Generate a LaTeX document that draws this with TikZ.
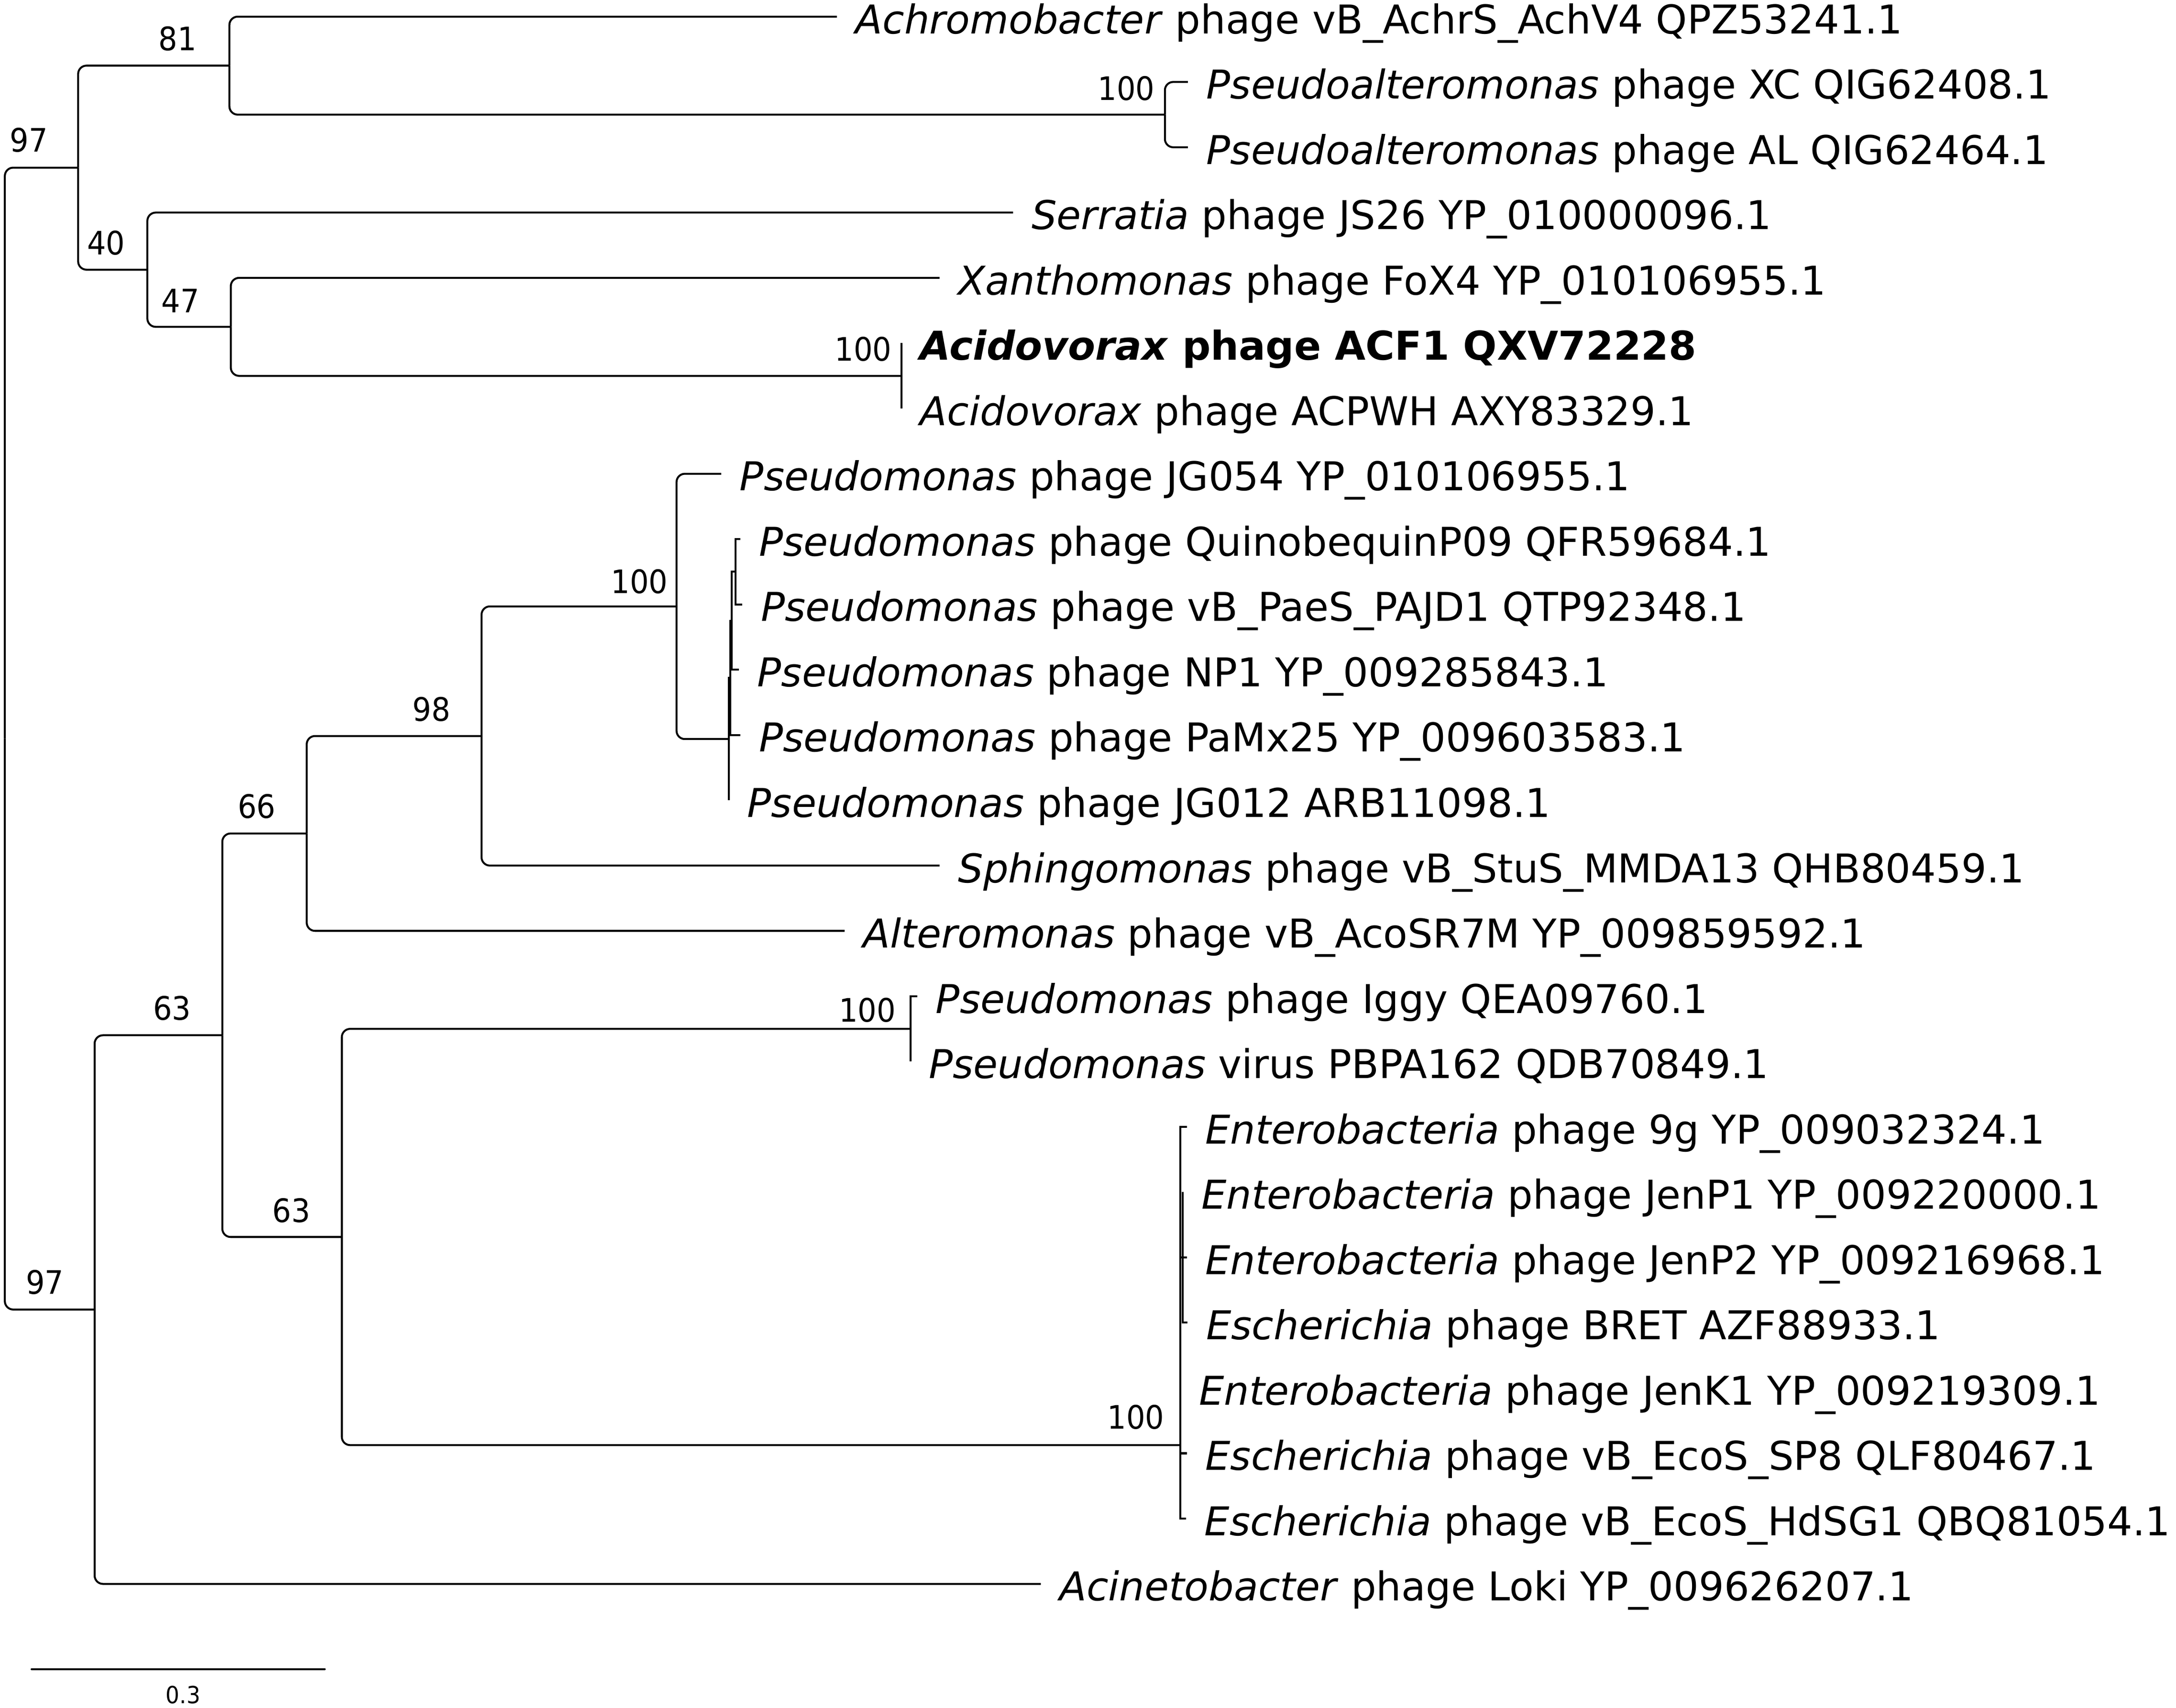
\documentclass[tikz,border=0pt]{standalone}
\usepackage{fontspec}
\setmainfont{DejaVu Sans}
\newfontfamily\bootfont[FakeStretch=0.92]{DejaVu Sans}
\usetikzlibrary{positioning}

\tikzset{
  branch/.style={line width=0.7pt, rounded corners=3pt},
  twig/.style={line width=0.7pt},
  leaf/.style={anchor=west, inner xsep=6.5pt, inner ysep=0pt, text height=13.6pt, text depth=1.43pt, font=\fontsize{14.3pt}{16pt}\selectfont},
  boot/.style={inner sep=0pt, text height=8.5pt, text depth=0pt, font=\bootfont\fontsize{11.65pt}{13pt}\selectfont},
}

\begin{document}
\begin{tikzpicture}[x=0.5pt,y=0.5pt,yscale=-1,xscale=1]
    \useasboundingbox (0,0) rectangle (1568,1230.6);

    %Inner nodes of the tree
    \coordinate (root) at (3.5,532.2);
    \coordinate (nA) at (56.3,120.8);
    \coordinate (nB) at (165.3,47.3);
    \coordinate (nC) at (839.4,82.6);
    \coordinate (nD) at (106.2,194.3);
    \coordinate (nE) at (166.3,235.5);
    \coordinate (nF) at (649.6,270.8);
    \coordinate (nG) at (68.2,943.5);
    \coordinate (nH) at (160.2,745.9);
    \coordinate (nI) at (221,600.5);
    \coordinate (nJ) at (347,530.3);
    \coordinate (nK) at (487.5,436.9);
    \coordinate (nL) at (525.2,532.5);
    \coordinate (nM) at (526.1,488.4);
    \coordinate (nN) at (527.2,447.2);
    \coordinate (nO) at (530.1,411.9);
    \coordinate (nP) at (246.3,891.25);
    \coordinate (nQ) at (656,741.3);
    \coordinate (nR) at (850.6,1041.2);
    \coordinate (nS) at (850.6,988.3);
    \coordinate (nT) at (850.6,929.5);
    \coordinate (nU) at (850.6,858.9);
    \coordinate (nV) at (852.3,905.95);

    % Text Node
    \draw (603,12) node (L0) [leaf] {\textit{Achromobacter} phage vB\_AchrS\_AchV4 QPZ53241.1};
    % Text Node
    \draw (856,59.05) node (L1) [leaf] {\textit{Pseudoalteromonas} phage XC QIG62408.1};
    % Text Node
    \draw (856,106.1) node (L2) [leaf] {\textit{Pseudoalteromonas} phage AL QIG62464.1};
    % Text Node
    \draw (730,153.15) node (L3) [leaf] {\textit{Serratia} phage JS26 YP\_010000096.1};
    % Text Node
    \draw (677,200.2) node (L4) [leaf] {\textit{Xanthomonas} phage FoX4 YP\_010106955.1};
    % Text Node
    \draw (649.6,247.25) node (L5) [leaf] {\bfseries\textit{Acidovorax} phage ACF1 QXV72228};
    % Text Node
    \draw (649.6,294.3) node (L6) [leaf] {\textit{Acidovorax} phage ACPWH AXY83329.1};
    % Text Node
    \draw (519.7,341.35) node (L7) [leaf] {\textit{Pseudomonas} phage JG054 YP\_010106955.1};
    % Text Node
    \draw (533.5,388.4) node (L8) [leaf] {\textit{Pseudomonas} phage QuinobequinP09 QFR59684.1};
    % Text Node
    \draw (535,435.45) node (L9) [leaf] {\textit{Pseudomonas} phage vB\_PaeS\_PAJD1 QTP92348.1};
    % Text Node
    \draw (532.4,482.5) node (L10) [leaf] {\textit{Pseudomonas} phage NP1 YP\_009285843.1};
    % Text Node
    \draw (533.5,529.55) node (L11) [leaf] {\textit{Pseudomonas} phage PaMx25 YP\_009603583.1};
    % Text Node
    \draw (525.2,576.6) node (L12) [leaf] {\textit{Pseudomonas} phage JG012 ARB11098.1};
    % Text Node
    \draw (677,623.65) node (L13) [leaf] {\textit{Sphingomonas} phage vB\_StuS\_MMDA13 QHB80459.1};
    % Text Node
    \draw (608.6,670.7) node (L14) [leaf] {\textit{Alteromonas} phage vB\_AcoSR7M YP\_009859592.1};
    % Text Node
    \draw (661,717.75) node (L15) [leaf] {\textit{Pseudomonas} phage Iggy QEA09760.1};
    % Text Node
    \draw (656,764.8) node (L16) [leaf] {\textit{Pseudomonas} virus PBPA162 QDB70849.1};
    % Text Node
    \draw (855.2,811.85) node (L17) [leaf] {\textit{Enterobacteria} phage 9g YP\_009032324.1};
    % Text Node
    \draw (852.3,858.9) node (L18) [leaf] {\textit{Enterobacteria} phage JenP1 YP\_009220000.1};
    % Text Node
    \draw (855.2,905.95) node (L19) [leaf] {\textit{Enterobacteria} phage JenP2 YP\_009216968.1};
    % Text Node
    \draw (855.8,953) node (L20) [leaf] {\textit{Escherichia} phage BRET AZF88933.1};
    % Text Node
    \draw (850.6,1000.05) node (L21) [leaf] {\textit{Enterobacteria} phage JenK1 YP\_009219309.1};
    % Text Node
    \draw (855.2,1047.1) node (L22) [leaf] {\textit{Escherichia} phage vB\_EcoS\_SP8 QLF80467.1};
    % Text Node
    \draw (854.6,1094.15) node (L23) [leaf] {\textit{Escherichia} phage vB\_EcoS\_HdSG1 QBQ81054.1};
    % Text Node
    \draw (750,1141.2) node (L24) [leaf] {\textit{Acinetobacter} phage Loki YP\_009626207.1};

    %Straight Lines: upper clade
    \draw [branch] (root) |- (nA);
    \draw [branch] (nA) |- (nB);
    \draw [branch] (nA) |- (nD);
    \draw [branch] (nB) |- (L0.west);
    \draw [branch] (nB) |- (nC);
    \draw [branch] (nC) |- (L1.west);
    \draw [branch] (nC) |- (L2.west);
    \draw [branch] (nD) |- (L3.west);
    \draw [branch] (nD) |- (nE);
    \draw [branch] (nE) |- (L4.west);
    \draw [branch] (nE) |- (nF);
    \draw [twig] (nF) |- (L5.west);
    \draw [twig] (nF) |- (L6.west);

    %Straight Lines: lower clade
    \draw [branch] (root) |- (nG);
    \draw [branch] (nG) |- (nH);
    \draw [branch] (nG) |- (L24.west);
    \draw [branch] (nH) |- (nI);
    \draw [branch] (nH) |- (nP);
    \draw [branch] (nI) |- (nJ);
    \draw [branch] (nI) |- (L14.west);
    \draw [branch] (nJ) |- (nK);
    \draw [branch] (nJ) |- (L13.west);
    \draw [branch] (nK) |- (L7.west);
    \draw [branch] (nK) |- (nL);
    \draw [twig] (nL) |- (nM);
    \draw [twig] (nL) |- (L12.west);
    \draw [twig] (nM) |- (nN);
    \draw [twig] (nM) |- (L11.west);
    \draw [twig] (nN) |- (nO);
    \draw [twig] (nN) |- (L10.west);
    \draw [twig] (nO) |- (L8.west);
    \draw [twig] (nO) |- (L9.west);
    \draw [branch] (nP) |- (nQ);
    \draw [branch] (nP) |- (nR);
    \draw [twig] (nQ) |- (L15.west);
    \draw [twig] (nQ) |- (L16.west);
    \draw [twig] (nR) |- (nS);
    \draw [twig] (nR) |- (L23.west);
    \draw [twig] (nS) |- (nT);
    \draw [twig] (nS) |- (L22.west);
    \draw [twig] (nT) |- (nU);
    \draw [twig] (nT) |- (L21.west);
    \draw [twig] (nU) |- (L17.west);
    \draw [twig] (nU) |- (nV);
    \draw [twig] (nV) |- (L18.west);
    \draw [twig] (nV) |- (L19.west);
    \draw [twig] (nV) |- (L20.west);

    % Text Node
    \draw (20.8,101) node (b97a) [boot] {97};
    % Text Node
    \draw (128,28) node (b81) [boot] {81};
    % Text Node
    \draw (811.5,63.8) node (b100c) [boot] {100};
    % Text Node
    \draw (76.4,175) node (b40) [boot] {40};
    % Text Node
    \draw (130,216.7) node (b47) [boot] {47};
    % Text Node
    \draw (622,251.5) node (b100f) [boot] {100};
    % Text Node
    \draw (460.8,419) node (b100k) [boot] {100};
    % Text Node
    \draw (311,511) node (b98) [boot] {98};
    % Text Node
    \draw (185,581) node (b66) [boot] {66};
    % Text Node
    \draw (124,726.5) node (b63h) [boot] {63};
    % Text Node
    \draw (625,727.6) node (b100q) [boot] {100};
    % Text Node
    \draw (210,872) node (b63p) [boot] {63};
    % Text Node
    \draw (818.4,1021) node (b100r) [boot] {100};
    % Text Node
    \draw (32.3,924) node (b97g) [boot] {97};

    %Scale bar
    \coordinate (s0) at (22.8,1202.6);
    \coordinate (s1) at (234,1202.6);
    \draw [line width=0.7pt, line cap=round] (s0) -- (s1);
    % Text Node
    \draw (132,1221) node (sbar) [boot, font=\bootfont\fontsize{8.5pt}{10pt}\selectfont, text height=6.2pt] {0.3};

\end{tikzpicture}
\end{document}
